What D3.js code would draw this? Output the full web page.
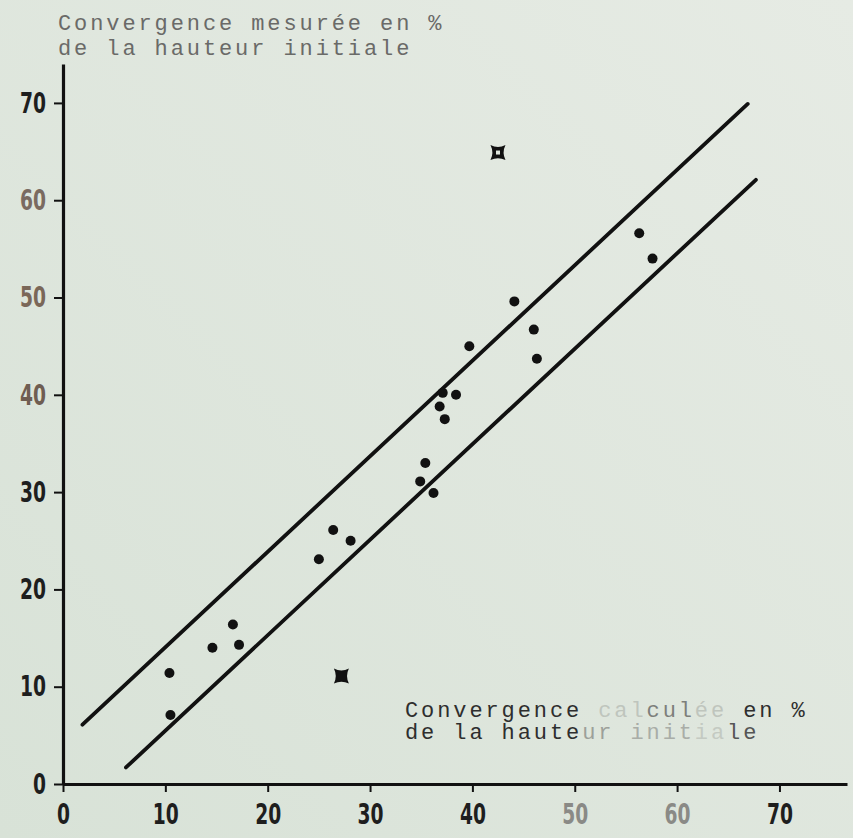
<!DOCTYPE html>
<html>
<head>
<meta charset="utf-8">
<script src="https://cdn.jsdelivr.net/npm/d3@7"></script>
<style>
  html, body { margin: 0; padding: 0; background: #dfe7de; }
  svg { display: block; }
  .lbl { font-family: "Liberation Mono", "DejaVu Sans Mono", monospace; font-size: 22px; letter-spacing: 2.9px; }
  .axis text { font-family: "DejaVu Sans", "Liberation Sans", sans-serif;
               font-weight: bold; font-size: 29px; fill: #1e1e1e; }
  .axis path.domain { stroke: #111; stroke-width: 3.2; }
  .axis line { stroke: #111; stroke-width: 2; }
</style>
</head>
<body>
<div id="chart"></div>
<script>
// values
const xTicks = [0, 10, 20, 30, 40, 50, 60, 70];
const yTicks = [0, 10, 20, 30, 40, 50, 60, 70];

// convergence calculée (x) / mesurée (y), in % of initial height
const calcX = [10.4, 10.5, 14.6, 16.6, 17.2, 25.0, 26.4, 28.1, 34.9, 35.4, 36.2,
               36.8, 37.1, 37.3, 38.4, 39.7, 44.1, 46.0, 46.3, 56.3, 57.6];
const measY = [11.4, 7.1, 14.0, 16.4, 14.3, 23.1, 26.1, 25.0, 31.1, 33.0, 29.9,
               38.8, 40.2, 37.5, 40.0, 45.0, 49.6, 46.7, 43.7, 56.6, 54.0];

// points marked with a cross (outliers)
const crossX = [42.5, 27.2];
const crossY = [64.9, 11.1];

// the two bounding lines
const upperLine = [[1.9, 6.1], [66.9, 69.9]];
const lowerLine = [[6.15, 1.7], [67.7, 62.1]];

const yTitle = ["Convergence mesurée en %", "de la hauteur initiale"];

const width = 853, height = 838;

const svg = d3.select("#chart").append("svg")
    .attr("width", width)
    .attr("height", height);

// paper background, slightly darker on the left
const grad = svg.append("defs").append("linearGradient")
    .attr("id", "paper").attr("x1", "0").attr("y1", "1").attr("x2", "1").attr("y2", "0");
grad.append("stop").attr("offset", "0").attr("stop-color", "#d8e2d7");
grad.append("stop").attr("offset", "1").attr("stop-color", "#e6ebe4");
svg.append("rect").attr("width", width).attr("height", height).attr("fill", "url(#paper)");

const x = d3.scaleLinear().domain([0, 76.6]).range([63, 847]);
const y = d3.scaleLinear().domain([0, 74]).range([784, 64]);

// axes (digits squeezed to look like the narrow stencil figures)
const faded = { 40: "#6f5d52", 50: "#7a6758", 60: "#7a6a60" };
const narrow = sel => sel
    .attr("textLength", d => String(d).length * 13)
    .attr("lengthAdjust", "spacingAndGlyphs");

svg.append("g")
    .attr("class", "axis")
    .attr("transform", "translate(0," + y(0) + ")")
    .call(d3.axisBottom(x).tickValues(xTicks).tickSize(8).tickSizeOuter(0).tickPadding(11))
    .selectAll("text")
    .call(narrow)
    .style("fill", d => d === 50 || d === 60 ? "#8a8a86" : null);

svg.append("g")
    .attr("class", "axis")
    .attr("transform", "translate(" + x(0) + ",0)")
    .call(d3.axisLeft(y).tickValues(yTicks).tickSize(9).tickSizeOuter(0).tickPadding(8))
    .selectAll("text")
    .call(narrow)
    .style("fill", d => faded[d] || null);

// bounding lines
const line = d3.line().x(d => x(d[0])).y(d => y(d[1]));
svg.selectAll(".band")
    .data([upperLine, lowerLine])
    .enter().append("path")
    .attr("class", "band")
    .attr("d", line)
    .attr("fill", "none")
    .attr("stroke", "#111")
    .attr("stroke-width", 3.8)
    .attr("stroke-linecap", "round");

// measured points
svg.selectAll(".pt")
    .data(calcX.map((v, i) => [v, measY[i]]))
    .enter().append("circle")
    .attr("class", "pt")
    .attr("cx", d => x(d[0]))
    .attr("cy", d => y(d[1]))
    .attr("r", 5)
    .attr("fill", "#111");

// four-pointed cross marker (square with hollowed sides)
const star4 = {
    draw(ctx, size) {
        const r = Math.sqrt(size) / 2, k = r * 0.5;
        ctx.moveTo(-r, -r);
        ctx.quadraticCurveTo(0, -k, r, -r);
        ctx.quadraticCurveTo(k, 0, r, r);
        ctx.quadraticCurveTo(0, k, -r, r);
        ctx.quadraticCurveTo(-k, 0, -r, -r);
        ctx.closePath();
    }
};
svg.selectAll(".cross")
    .data(crossX.map((v, i) => [v, crossY[i]]))
    .enter().append("path")
    .attr("class", "cross")
    .attr("transform", d => "translate(" + x(d[0]) + "," + y(d[1]) + ")")
    .attr("d", d3.symbol(star4, 225))
    .attr("fill", "#111");
// the upper marker has a small open centre
svg.append("rect")
    .attr("x", x(crossX[0]) - 2).attr("y", y(crossY[0]) - 2)
    .attr("width", 4).attr("height", 4)
    .attr("fill", "#dfe6dd");

// axis titles
svg.append("text").attr("class", "lbl").attr("x", 58).attr("y", 30)
    .attr("fill", "#6a6a68").text(yTitle[0]);
svg.append("text").attr("class", "lbl").attr("x", 58).attr("y", 55)
    .attr("fill", "#6a6a68").text(yTitle[1]);

// x title, partly faded as on the scan
const xt1 = svg.append("text").attr("class", "lbl").attr("x", 405).attr("y", 717).attr("fill", "#2e2e2e");
xt1.append("tspan").text("Convergence ");
xt1.append("tspan").attr("fill", "#bfc5bd").text("cal");
xt1.append("tspan").attr("fill", "#7d7f7b").text("cul");
xt1.append("tspan").attr("fill", "#bfc5bd").text("ée");
xt1.append("tspan").text(" en %");

const xt2 = svg.append("text").attr("class", "lbl").attr("x", 405).attr("y", 739).attr("fill", "#2e2e2e");
xt2.append("tspan").text("de la haute");
xt2.append("tspan").attr("fill", "#9ca09a").text("ur ");
xt2.append("tspan").attr("fill", "#a9ada7").text("init");
xt2.append("tspan").attr("fill", "#c4cac2").text("ia");
xt2.append("tspan").attr("fill", "#555").text("le");
</script>
</body>
</html>
